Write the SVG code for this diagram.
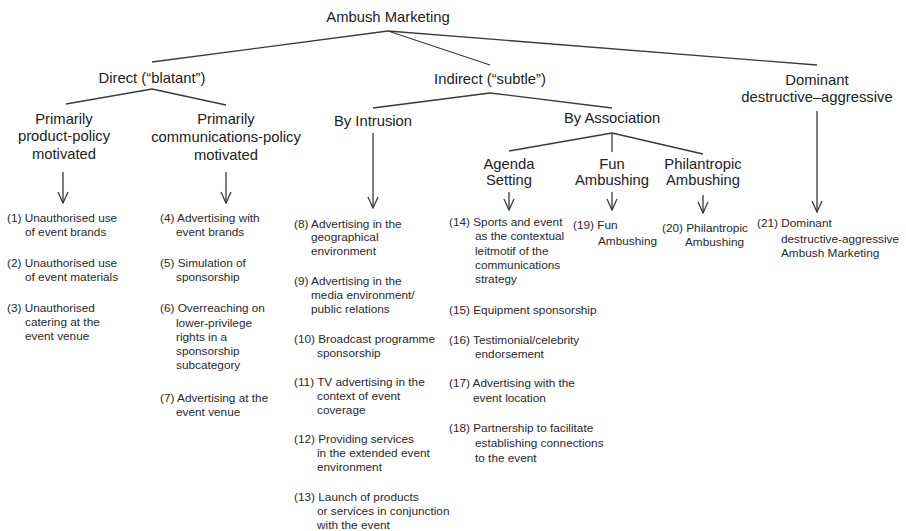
<svg xmlns="http://www.w3.org/2000/svg" width="906" height="531" viewBox="0 0 906 531">
<style>
text{font-family:"Liberation Sans",Arial,sans-serif;fill:#222}
.h{font-size:14.8px;text-anchor:middle}
.i{font-size:11.8px;fill:#2a2a2a}
.c line{stroke:#3a3a3a;stroke-width:1.3;fill:none}
.a{marker-end:url(#arr)}
</style>
<defs>
<marker id="arr" viewBox="-12 -6 13 12" markerWidth="13" markerHeight="12" refX="0" refY="0" orient="auto" markerUnits="userSpaceOnUse">
<path d="M-11,-5 L0,0 L-11,5" fill="none" stroke="#3a3a3a" stroke-width="1.3"/>
</marker>
</defs>
<rect width="906" height="531" fill="#fff"/>
<g class="c" id="connectors">
<line x1="388" y1="31" x2="152" y2="62"/>
<line x1="388" y1="31" x2="490" y2="65"/>
<line x1="388" y1="31" x2="817" y2="65"/>
<line x1="152" y1="89" x2="66" y2="104"/>
<line x1="152" y1="89" x2="226" y2="105"/>
<line x1="490" y1="93" x2="373" y2="108"/>
<line x1="490" y1="93" x2="612" y2="108"/>
<line x1="612" y1="133" x2="509" y2="151"/>
<line x1="612" y1="133" x2="612" y2="152"/>
<line x1="612" y1="133" x2="703" y2="154"/>
<line class="a" x1="63" y1="172" x2="63" y2="203"/>
<line class="a" x1="226" y1="172" x2="226" y2="203"/>
<line class="a" x1="373" y1="133" x2="373" y2="208"/>
<line class="a" x1="509" y1="192" x2="509" y2="210"/>
<line class="a" x1="612" y1="192" x2="612" y2="210"/>
<line class="a" x1="703" y1="195" x2="703" y2="213"/>
<line class="a" x1="817" y1="111" x2="817" y2="212"/>
</g>
<g id="n-root"><text class="h" x="388" y="22">Ambush Marketing</text></g>
<g id="n-direct"><text class="h" x="152" y="83">Direct (“blatant”)</text></g>
<g id="n-indirect"><text class="h" x="490" y="84">Indirect (“subtle”)</text></g>
<g id="n-dominant"><text class="h" x="817" y="85">Dominant</text><text class="h" x="817" y="102">destructive–aggressive</text></g>
<g id="n-product"><text class="h" x="64" y="124">Primarily</text><text class="h" x="64" y="141">product-policy</text><text class="h" x="64" y="159">motivated</text></g>
<g id="n-comm"><text class="h" x="226" y="124">Primarily</text><text class="h" x="226" y="142">communications-policy</text><text class="h" x="226" y="160">motivated</text></g>
<g id="n-intrusion"><text class="h" x="373" y="126">By Intrusion</text></g>
<g id="n-association"><text class="h" x="612" y="123">By Association</text></g>
<g id="n-agenda"><text class="h" x="509" y="169">Agenda</text><text class="h" x="509" y="185">Setting</text></g>
<g id="n-fun"><text class="h" x="612" y="169">Fun</text><text class="h" x="612" y="185">Ambushing</text></g>
<g id="n-phil"><text class="h" x="703" y="169">Philantropic</text><text class="h" x="703" y="185">Ambushing</text></g>
<g id="n-items1">
<text class="i" x="7" y="222">(1) Unauthorised use</text><text class="i" x="25" y="236">of event brands</text>
<text class="i" x="7" y="267">(2) Unauthorised use</text><text class="i" x="25" y="281">of event materials</text>
<text class="i" x="7" y="312">(3) Unauthorised</text><text class="i" x="25" y="326">catering at the</text><text class="i" x="25" y="340">event venue</text>
</g>
<g id="n-items2">
<text class="i" x="160" y="222">(4) Advertising with</text><text class="i" x="176" y="236">event brands</text>
<text class="i" x="160" y="267">(5) Simulation of</text><text class="i" x="176" y="281">sponsorship</text>
<text class="i" x="160" y="312">(6) Overreaching on</text><text class="i" x="176" y="326.5">lower-privilege</text><text class="i" x="176" y="341">rights in a</text><text class="i" x="176" y="355">sponsorship</text><text class="i" x="176" y="369">subcategory</text>
<text class="i" x="160" y="402">(7) Advertising at the</text><text class="i" x="176" y="416">event venue</text>
</g>
<g id="n-items3">
<text class="i" x="294" y="228">(8) Advertising in the</text><text class="i" x="311" y="241">geographical</text><text class="i" x="311" y="255">environment</text>
<text class="i" x="294" y="285">(9) Advertising in the</text><text class="i" x="311" y="299">media environment/</text><text class="i" x="311" y="313">public relations</text>
<text class="i" x="294" y="343">(10) Broadcast programme</text><text class="i" x="317" y="357">sponsorship</text>
<text class="i" x="294" y="386">(11) TV advertising in the</text><text class="i" x="317" y="400">context of event</text><text class="i" x="317" y="414">coverage</text>
<text class="i" x="294" y="443">(12) Providing services</text><text class="i" x="317" y="457">in the extended event</text><text class="i" x="317" y="471">environment</text>
<text class="i" x="294" y="501">(13) Launch of products</text><text class="i" x="317" y="515">or services in conjunction</text><text class="i" x="317" y="529">with the event</text>
</g>
<g id="n-items4">
<text class="i" x="449" y="226">(14) Sports and event</text><text class="i" x="475" y="240">as the contextual</text><text class="i" x="475" y="255">leitmotif of the</text><text class="i" x="475" y="269">communications</text><text class="i" x="475" y="283">strategy</text>
<text class="i" x="449" y="314">(15) Equipment sponsorship</text>
<text class="i" x="449" y="344">(16) Testimonial/celebrity</text><text class="i" x="475" y="358">endorsement</text>
<text class="i" x="449" y="387">(17) Advertising with the</text><text class="i" x="473" y="402">event location</text>
<text class="i" x="449" y="432">(18) Partnership to facilitate</text><text class="i" x="475" y="447">establishing connections</text><text class="i" x="475" y="462">to the event</text>
</g>
<g id="n-item19"><text class="i" x="573" y="229">(19) Fun</text><text class="i" x="598" y="245">Ambushing</text></g>
<g id="n-item20"><text class="i" x="662" y="232">(20) Philantropic</text><text class="i" x="685" y="246">Ambushing</text></g>
<g id="n-item21"><text class="i" x="757" y="227">(21) Dominant</text><text class="i" x="781" y="243">destructive-aggressive</text><text class="i" x="781" y="257">Ambush Marketing</text></g>
</svg>
